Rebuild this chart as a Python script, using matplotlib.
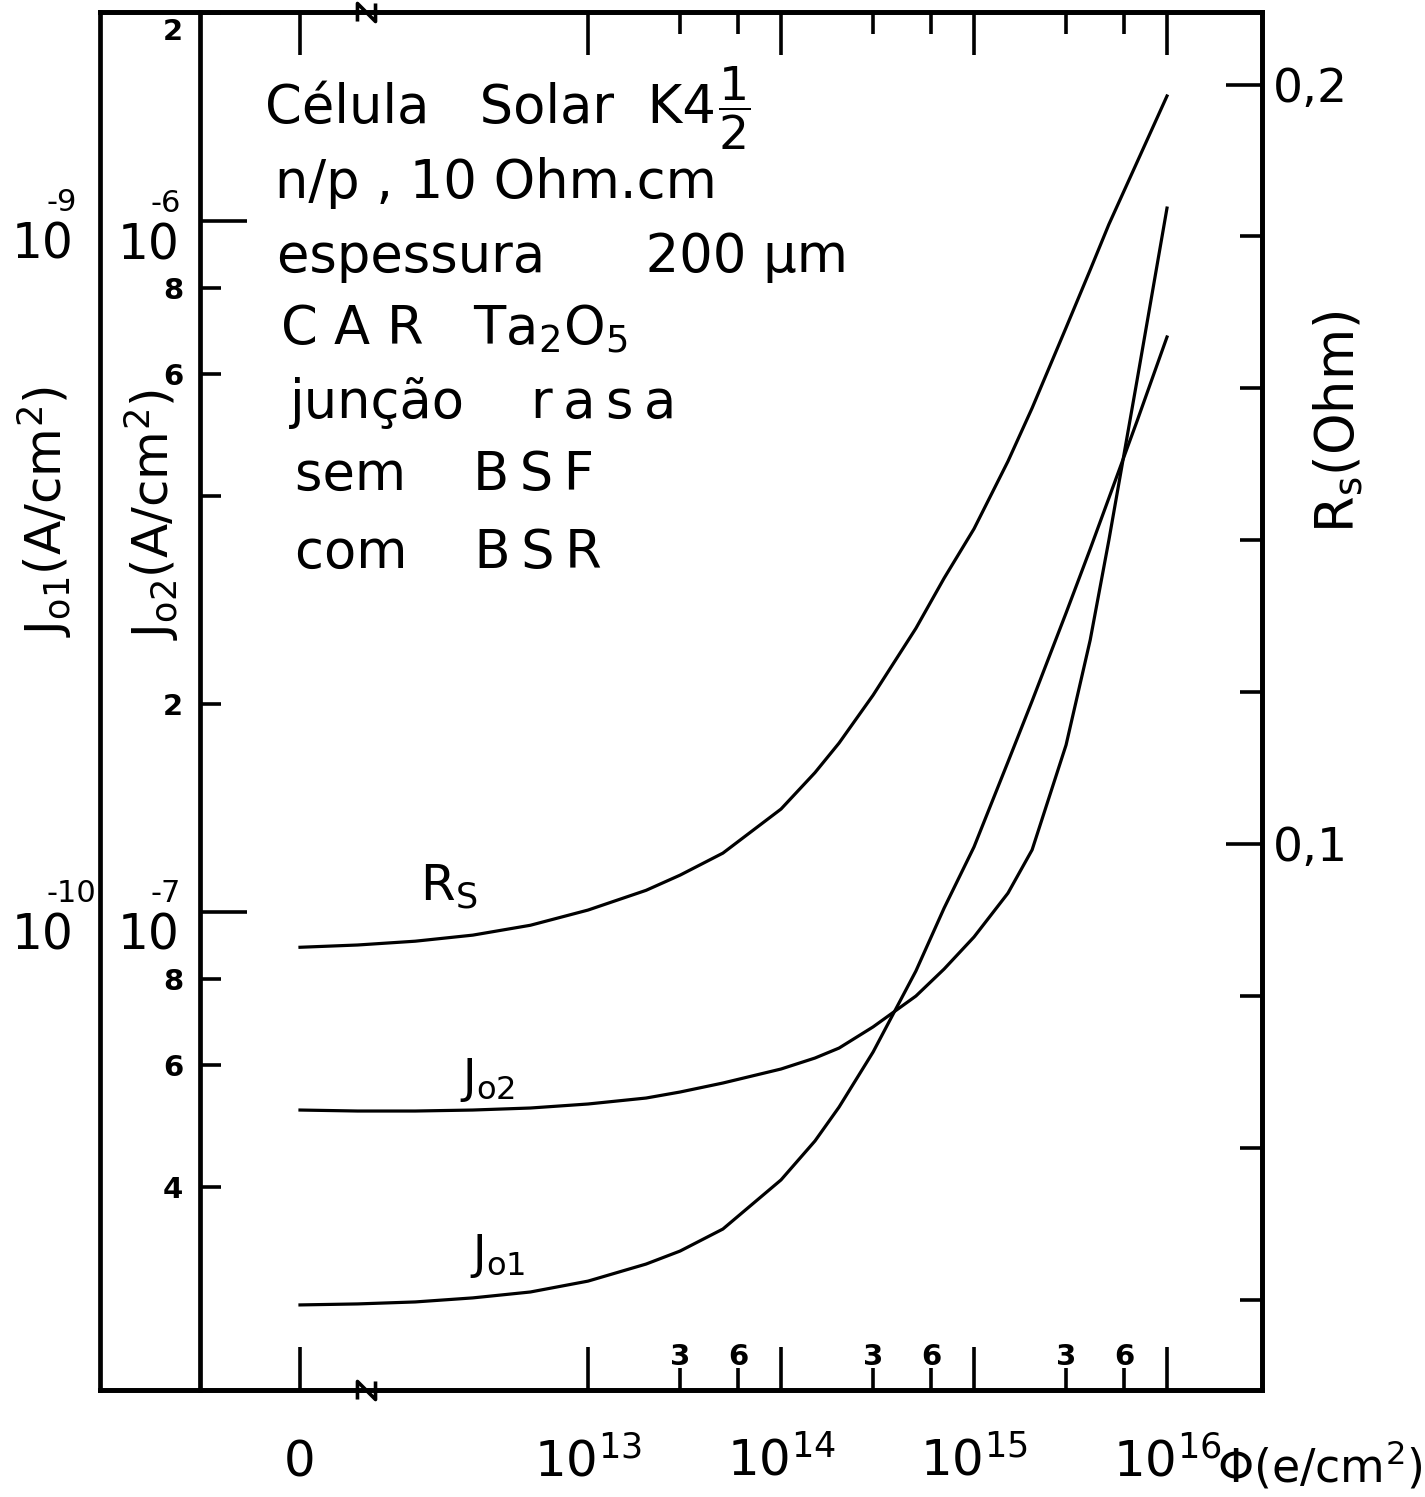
import numpy as np
import matplotlib
matplotlib.use("Agg")
import matplotlib.pyplot as plt
import matplotlib.transforms as mtransforms
from matplotlib.path import Path

plt.rcParams['font.family'] = ['DejaVu Sans']
plt.rcParams['mathtext.fontset'] = 'dejavusans'

# ---------------- data ----------------
phi = [0, 2e12, 4e12, 6e12, 8e12, 1e13, 2e13, 3e13, 5e13, 1e14, 1.5e14, 2e14,
       3e14, 5e14, 7e14, 1e15, 1.5e15, 2e15, 3e15, 4e15, 5e15, 7e15, 1e16]
j01 = [2.700e-11, 2.709e-11, 2.727e-11, 2.764e-11, 2.819e-11, 2.923e-11,
       3.094e-11, 3.231e-11, 3.477e-11, 4.095e-11, 4.663e-11, 5.221e-11,
       6.271e-11, 8.215e-11, 1.013e-10, 1.242e-10, 1.649e-10, 2.020e-10,
       2.709e-10, 3.352e-10, 3.973e-10, 5.136e-10, 6.794e-10]
j02 = [5.169e-8, 5.152e-8, 5.152e-8, 5.169e-8, 5.204e-8, 5.274e-8, 5.380e-8,
       5.489e-8, 5.656e-8, 5.926e-8, 6.147e-8, 6.355e-8, 6.819e-8, 7.557e-8,
       8.269e-8, 9.201e-8, 1.065e-7, 1.230e-7, 1.745e-7, 2.475e-7, 3.454e-7,
       5.888e-7, 1.044e-6]
rs = [0.0864, 0.0867, 0.0872, 0.0880, 0.0893, 0.0913, 0.0939, 0.0959, 0.0988,
      0.1046, 0.1094, 0.1133, 0.1196, 0.1284, 0.1350, 0.1415, 0.1504, 0.1574,
      0.1680, 0.1756, 0.1816, 0.1898, 0.1985]

x_major = [0, 1e13, 1e14, 1e15, 1e16]
x_major_labels = ['0', r'$10^{13}$', r'$10^{14}$', r'$10^{15}$', r'$10^{16}$']
x_minor = [3e13, 6e13, 3e14, 6e14, 3e15, 6e15]
x_minor_labels = ['3', '6', '3', '6', '3', '6']

j02_major = [1e-7, 1e-6]
j02_major_labels = ['10', '10']
j02_major_exps = ['-7', '-6']
j02_minor = [4e-8, 6e-8, 8e-8, 2e-7, 4e-7, 6e-7, 8e-7, 2e-6]
j02_minor_labels = ['4', '6', '8', '2', '', '6', '8', '']
j01_major = [1e-10, 1e-9]
j01_major_labels = ['10', '10']
j01_major_exps = ['-10', '-9']

rs_major = [0.1, 0.2]
rs_major_labels = ['0,1', '0,2']
rs_minor = [0.04, 0.06, 0.08, 0.12, 0.14, 0.16, 0.18]

TS = '\u2009'
info_lines = ["Célula   Solar  K4",
              "n/p , 10 Ohm.cm",
              "espessura      200 µm",
              r"C A R   Ta$_2$O$_5$",
              "junção    r" + TS + "a" + TS + "s" + TS + "a",
              "sem    B" + TS + "S" + TS + "F",
              "com    B" + TS + "S" + TS + "R"]

# ---------------- broken x scale ----------------
BREAK_WIDTH = 288 / 193  # width of the 0..1e13 segment, in decades


def fwd(v):
    v = np.asarray(v, dtype=float)
    lg = np.log10(np.where(v > 0, v, 1.0))
    return np.where(v >= 1e13, lg - 13.0, (v / 1e13 - 1.0) * BREAK_WIDTH)


def inv(p):
    p = np.asarray(p, dtype=float)
    pp = np.where(p >= 0, p, 0.0)
    return np.where(p >= 0, 10.0 ** (pp + 13.0), 1e13 * (1.0 + p / BREAK_WIDTH))


W, H = 1425, 1497
fig = plt.figure(figsize=(W / 100, H / 100), dpi=100)
L, R, T, B = 100, 1262, 12, 1390
rect = [L / W, 1 - B / H, (R - L) / W, (B - T) / H]


def axf(px, py):
    return ((px - L) / (R - L), (B - py) / (B - T))


ax = fig.add_axes(rect)
ax.set_xscale('function', functions=(fwd, inv))
ax.set_xlim(float(inv((L - 588) / 193)), float(inv((R - 588) / 193)))
ax.set_yscale('log')
dec = 691.0
ylo = 10 ** (-7 - (B - 912) / dec)
yhi = 10 ** (-7 + (912 - T) / dec)
ax.set_ylim(ylo, yhi)

LW_FRAME = 3.4
LW_CURVE = 2.3
TW = 2.6

for s in ax.spines.values():
    s.set_linewidth(LW_FRAME)
ax.spines['left'].set_position(('axes', (200 - L) / (R - L)))

ax.plot(phi, j02, color='black', lw=LW_CURVE, solid_joinstyle='round')

# x ticks
ax.set_xticks(x_major, labels=x_major_labels)
ax.set_xticks(x_minor, labels=x_minor_labels, minor=True)
ax.tick_params(axis='x', which='major', direction='in', length=31, width=TW,
               top=True, labelsize=36, pad=62)
ax.tick_params(axis='x', which='minor', direction='in', length=16, width=TW,
               top=True, labelsize=21, pad=-34)
for lab in ax.get_xticklabels():
    lab.set_verticalalignment('baseline')
for lab in ax.get_xticklabels(minor=True):
    lab.set_fontweight('bold')

# J02 y ticks
ax.set_yticks(j02_major, labels=j02_major_labels)
ax.set_yticks(j02_minor, labels=j02_minor_labels, minor=True)
ax.tick_params(axis='y', which='major', direction='in', length=34, width=TW,
               labelsize=35, pad=15)
ax.tick_params(axis='y', which='minor', direction='in', length=15, width=TW,
               labelsize=21, pad=12)
for lab in ax.get_yticklabels():
    lab.set_verticalalignment('top')
for lab in ax.get_yticklabels(minor=True):
    lab.set_fontweight('bold')
ax.text(*axf(183, 32), '2', transform=ax.transAxes, ha='right', va='center',
        fontsize=21, fontweight='bold')
t_j02 = mtransforms.offset_copy(
    mtransforms.blended_transform_factory(ax.transAxes, ax.transData),
    fig=fig, x=0, y=18, units='dots')
for val, e in zip(j02_major, j02_major_exps):
    ax.text((150 - L) / (R - L), val, e, transform=t_j02, ha='left',
            va='center', fontsize=22)

# J01 axis (outer frame line)
ax1 = fig.add_axes(rect, sharex=ax)
ax1.set_yscale('log')
ax1.set_ylim(ylo * 1e-3, yhi * 1e-3)
ax1.patch.set_visible(False)
for k in ['right', 'top', 'bottom']:
    ax1.spines[k].set_visible(False)
ax1.spines['left'].set_linewidth(LW_FRAME)
ax1.xaxis.set_visible(False)
ax1.set_yticks(j01_major, labels=j01_major_labels)
ax1.set_yticks([], minor=True)
ax1.tick_params(axis='y', which='major', length=0, labelsize=35, pad=19)
for lab in ax1.get_yticklabels():
    lab.set_verticalalignment('top')
t_j01 = mtransforms.offset_copy(
    mtransforms.blended_transform_factory(ax1.transAxes, ax1.transData),
    fig=fig, x=0, y=18, units='dots')
for val, e in zip(j01_major, j01_major_exps):
    ax1.text((46 - L) / (R - L), val, e, transform=t_j01, ha='left',
             va='center', fontsize=22)
ax1.plot(phi, j01, color='black', lw=LW_CURVE, solid_joinstyle='round')

# Rs axis
axr = ax.twinx()
axr.set_ylim(0.1 - (B - 844) / 7594, 0.1 + (844 - T) / 7594)
for s in axr.spines.values():
    s.set_linewidth(LW_FRAME)
axr.spines['left'].set_visible(False)
axr.set_yticks(rs_major, labels=rs_major_labels)
axr.set_yticks(rs_minor, minor=True)
axr.tick_params(axis='y', which='major', direction='in', length=26, width=TW,
                labelsize=34, pad=8)
axr.tick_params(axis='y', which='minor', direction='in', length=16, width=TW)
axr.plot(phi, rs, color='black', lw=LW_CURVE, solid_joinstyle='round')

# axis labels
fig.text(45 / W, 1 - 512 / H, r'J$_{\rm o1}$(A/cm$^2$)', rotation=90,
         ha='center', va='center', fontsize=36)
fig.text(152 / W, 1 - 515 / H, r'J$_{\rm o2}$(A/cm$^2$)', rotation=90,
         ha='center', va='center', fontsize=36)
fig.text(1338 / W, 1 - 422 / H, r'R$_{\rm s}$(Ohm)', rotation=90,
         ha='center', va='center', fontsize=38)
fig.text(1320 / W, 1 - 1465 / H, r'$\Phi$(e/cm$^2$)', ha='center',
         va='center', fontsize=33)

# break marks
nmark = Path([(-1, -1), (-1, 1), (1, -1), (1, 1)],
             [Path.MOVETO, Path.LINETO, Path.LINETO, Path.LINETO])
for yy in (0, 1):
    ax.plot([2.3e12], [yy], marker=nmark, ms=13, mew=2.6, mfc='none',
            mec='black', transform=ax.get_xaxis_transform(), clip_on=False)

# info text block
info_pos = [(265, 123), (275, 198), (277, 272), (280, 345), (290, 418),
            (295, 490), (295, 568)]
for txt, (px, py) in zip(info_lines, info_pos):
    ax.text(*axf(px, py), txt, transform=ax.transAxes, ha='left',
            va='baseline', fontsize=38)
ax.text(*axf(718, 108), r'$\dfrac{1}{2}$', transform=ax.transAxes,
        ha='left', va='center', fontsize=34)

# curve labels
ax.text(*axf(420, 900), r'R$_{\rm S}$', transform=ax.transAxes,
        ha='left', va='baseline', fontsize=36)
ax.text(*axf(460, 1092), r'J$_{\rm o2}$', transform=ax.transAxes,
        ha='left', va='baseline', fontsize=33)
ax.text(*axf(470, 1268), r'J$_{\rm o1}$', transform=ax.transAxes,
        ha='left', va='baseline', fontsize=33)

fig.savefig('out.png', dpi=100, facecolor='white')
